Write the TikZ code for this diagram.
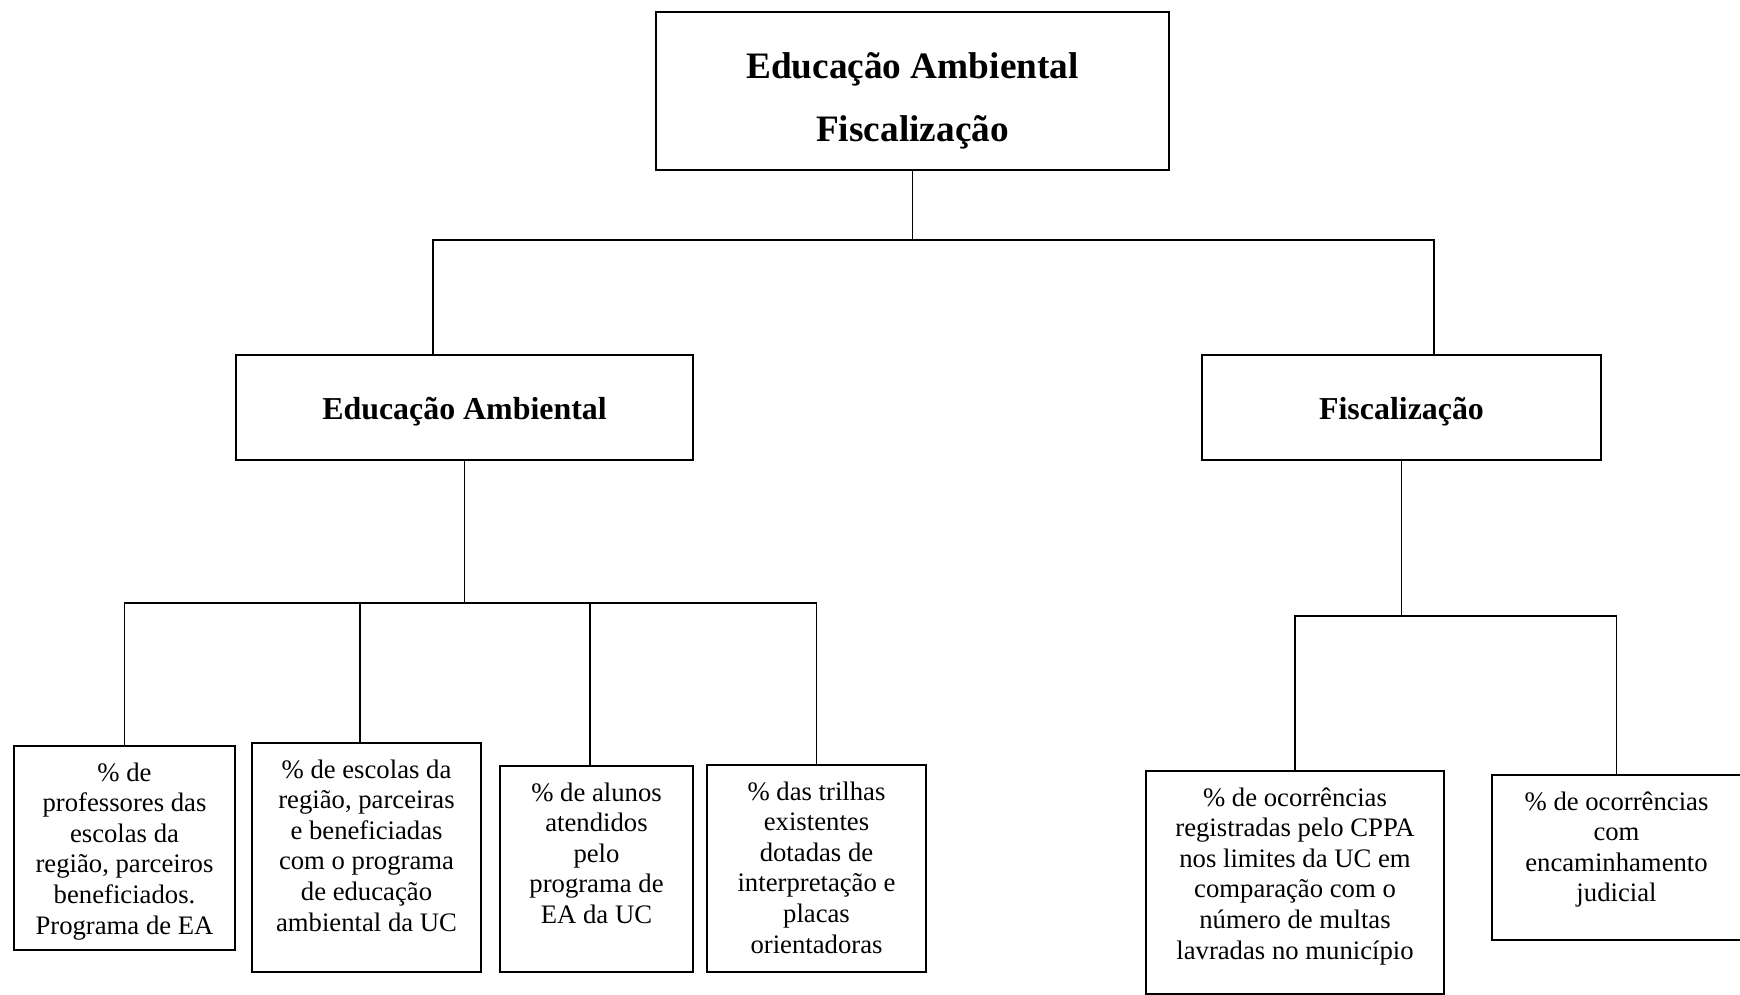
\documentclass[tikz,border=0pt]{standalone}
\usepackage{fontspec}
\setmainfont{Liberation Serif}
\usetikzlibrary{positioning,calc}

\begin{document}
\begin{tikzpicture}[
    x=1pt, y=-1pt,
    head/.style={draw, line width=2pt, rectangle, align=center, anchor=north west, inner sep=0pt, font=\bfseries\fontsize{31.9}{38}\selectfont},
    leaf/.style={draw, line width=2pt, rectangle, align=center, anchor=north west, inner sep=0pt, font=\fontsize{26.7}{30.6}\selectfont},
    link/.style={line width=1.5pt}
]
    \useasboundingbox (0,0) rectangle (1740,995);

    % text height is measured to the last line here
    \node[head, minimum width=513pt, text height=130pt, text depth=28pt, font=\bfseries\fontsize{37.3}{63}\selectfont] (top) at (655,11) {Educação Ambiental\\Fiscalização};
    \node[head, minimum width=457pt, text height=64pt, text depth=41pt] (ea) at (235,354) {Educação Ambiental};
    \node[head, minimum width=399pt, text height=64pt, text depth=41pt] (fisc) at (1201,354) {Fiscalização};

    \node[leaf, minimum width=221pt, text height=188pt, text depth=16pt] (c1) at (13,745) {\% de\\professores das\\escolas da\\região, parceiros\\beneficiados.\\Programa de EA};
    \node[leaf, minimum width=229pt, text height=188pt, text depth=41pt] (c2) at (251,742) {\% de escolas da\\região, parceiras\\e beneficiadas\\com o programa\\de educação\\ambiental da UC};
    \node[leaf, minimum width=193pt, text height=157.4pt, text depth=48.6pt] (c3) at (499,765) {\% de alunos\\atendidos\\pelo\\programa de\\EA da UC};
    \node[leaf, minimum width=219pt, text height=188pt, text depth=19pt] (c4) at (706,764) {\% das trilhas\\existentes\\dotadas de\\interpretação e\\placas\\orientadoras};

    \node[leaf, minimum width=298pt, text height=188pt, text depth=35pt] (f1) at (1145,770) {\% de ocorrências\\registradas pelo CPPA\\nos limites da UC em\\comparação com o\\número de multas\\lavradas no município};
    \node[leaf, minimum width=249pt, text height=126.8pt, text depth=38.2pt] (f2) at (1491,774) {\% de ocorrências\\com\\encaminhamento\\judicial};

    \coordinate (lA) at (433,240);
    \coordinate (lB) at (1434,240);
    \coordinate (barA) at (464,603);
    \coordinate (b2) at (360,603);
    \coordinate (b3) at (590,603);
    \coordinate (barF) at (1402,616);

    \draw[link] (top.south) -- (top.south |- lA);
    \draw[link] (lA |- ea.north) -- (lA) -- (lB) -- (lB |- fisc.north);

    \draw[link] (ea.south) -- (ea.south |- barA);
    \draw[link] (c1.north) |- (c4.north |- barA) -- (c4.north);
    \draw[link] (b2) -- (b2 |- c2.north);
    \draw[link] (b3) -- (b3 |- c3.north);

    \draw[link] (fisc.south) -- (fisc.south |- barF);
    \draw[link] (f1.north) |- (f2.north |- barF) -- (f2.north);
\end{tikzpicture}
\end{document}
